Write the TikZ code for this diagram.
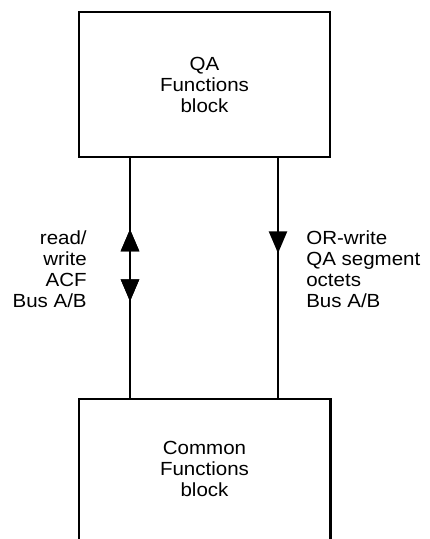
\documentclass[tikz,border=0pt]{standalone}
\usepackage{fontspec}
\setmainfont{Liberation Sans}[FakeStretch=1.08]
\usetikzlibrary{arrows.meta, positioning, decorations.markings}

\begin{document}
\begin{tikzpicture}[
    x=1pt, y=-1pt,
    block/.style     = {rectangle, draw=black, line width=2.6pt,
                        minimum width=251pt, minimum height=145pt,
                        align=center, font=\fontsize{19}{21}\selectfont},
    openblock/.style = {rectangle, minimum width=251pt, minimum height=140pt,
                        align=center, font=\fontsize{19}{21}\selectfont},
    bus/.style       = {line width=2.6pt, color=black},
    busnote/.style   = {inner sep=0pt, font=\fontsize{19}{21}\selectfont},
    tipup/.style     = {postaction={decorate}, decoration={markings,
                        mark=at position #1 with {\arrowreversed{Triangle[length=22pt, width=18pt]}}}},
    tipdown/.style   = {postaction={decorate}, decoration={markings,
                        mark=at position #1 with {\arrow{Triangle[length=22pt, width=18pt]}}}},
  ]
    \useasboundingbox (0,0) rectangle (430,539);

    % ── Blocks ───────────────────────────────────────────────
    \node[block]     (qa) at (204.5, 84.5) {QA\\Functions\\block};
    \node[openblock] (cf) at (204.5, 469)  {Common\\Functions\\block};
    \draw[bus] (cf.south west) -- (cf.north west) -- (cf.north east) -- (cf.south east);

    % ── Buses ────────────────────────────────────────────────
    \draw[bus, tipup=71pt, tipdown=143pt] ([xshift=-74.5pt]qa.south) -- ([xshift=-74.5pt]cf.north)
        node[busnote, pos=0.463, left=42pt, align=right] (rwnote) {read/\\write\\ACF\\Bus A/B};
    \draw[bus, tipdown=95pt] ([xshift=73.5pt]qa.south) -- ([xshift=73.5pt]cf.north)
        node[busnote, pos=0.463, right=27pt, align=left] (ornote) {OR-write\\QA segment\\octets\\Bus A/B};

  \end{tikzpicture}
\end{document}
